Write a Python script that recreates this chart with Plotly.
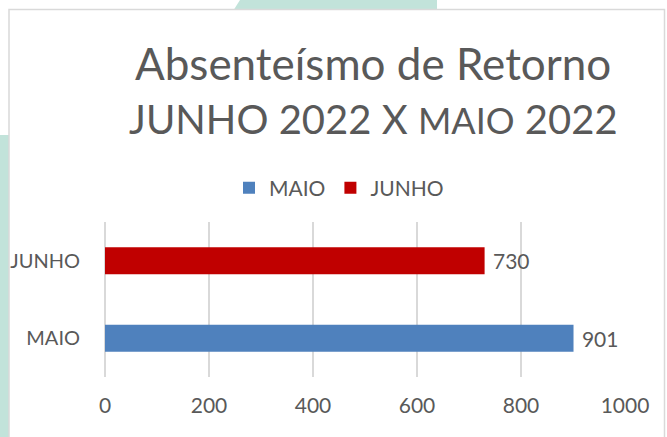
import plotly.graph_objects as go

categories = ["MAIO", "JUNHO"]
values = [901, 730]
colors = ["#4F81BD", "#C00000"]
x_ticks = [0, 200, 400, 600, 800, 1000]

W, H = 667, 437
L, R, T, B = 105, 625, 222, 377  # plot area in pixels

def px(x):
    return (x - L) / (R - L)

def py(y):
    return (B - y) / (B - T)

FONT = "Lato"
GRAY = "#595959"

fig = go.Figure()
for cat, val, col in zip(categories, values, colors):
    fig.add_trace(go.Bar(
        y=[cat], x=[val], name=cat, orientation="h",
        marker=dict(color=col, line=dict(width=0)),
        width=0.35,
        text=[" " + str(val)], textposition="outside", cliponaxis=False,
        textfont=dict(size=21, color=GRAY, family=FONT),
    ))

shapes = [
    # green background shapes
    dict(type="path", xref="paper", yref="paper", layer="below",
         path=f"M {px(233)} {py(11)} L {px(240)} {py(0)} L {px(437)} {py(0)} L {px(437)} {py(11)} Z",
         fillcolor="#C2E3DA", line=dict(width=0)),
    dict(type="rect", xref="paper", yref="paper", layer="below",
         x0=px(0), x1=px(9), y0=py(135), y1=py(440),
         fillcolor="#C2E3DA", line=dict(width=0)),
    # white chart box with gray border
    dict(type="rect", xref="paper", yref="paper", layer="below",
         x0=px(9), x1=px(664.5), y0=py(9.5), y1=py(445),
         fillcolor="white", line=dict(color="#D9D9D9", width=1.5)),
]

fig.update_layout(
    width=W, height=H,
    margin=dict(l=L, r=W - R, t=T, b=H - B, pad=0, autoexpand=False),
    paper_bgcolor="white", plot_bgcolor="rgba(0,0,0,0)",
    barmode="relative",
    showlegend=True,
    legend=dict(orientation="h", x=px(339), y=py(188), xanchor="center", yanchor="middle",
                font=dict(size=21, color=GRAY, family=FONT), itemwidth=30,
                bgcolor="rgba(0,0,0,0)", traceorder="normal"),
    shapes=shapes,
    font=dict(family=FONT, color=GRAY),
    xaxis=dict(range=[0, 1000], tickvals=x_ticks, ticktext=[str(v) for v in x_ticks],
               showgrid=True, gridcolor="#D9D9D9", gridwidth=1.5,
               zeroline=True, zerolinecolor="#D9D9D9", zerolinewidth=1.5,
               showline=False, ticks="", ticklabelstandoff=14, automargin=False,
               tickfont=dict(size=21, color=GRAY, family=FONT), fixedrange=True),
    yaxis=dict(categoryorder="array", categoryarray=categories,
               showgrid=False, zeroline=False, showline=False, ticks="",
               ticklabelstandoff=24, automargin=False,
               tickfont=dict(size=20, color=GRAY, family=FONT), fixedrange=True),
    annotations=[
        dict(xref="paper", yref="paper", x=px(373), y=py(63), xanchor="center", yanchor="middle",
             text="Absenteísmo de Retorno", showarrow=False,
             font=dict(size=44, color=GRAY, family=FONT)),
        dict(xref="paper", yref="paper", x=px(373), y=py(119), xanchor="center", yanchor="middle",
             text="JUNHO 2022 X <span style='font-size:36px'>MAIO</span> 2022", showarrow=False,
             font=dict(size=40, color=GRAY, family=FONT)),
    ],
)

fig.write_html("out.html", config={"displayModeBar": False},
               post_script="document.body.style.margin='0';document.body.style.padding='0';document.body.style.overflow='hidden';")
